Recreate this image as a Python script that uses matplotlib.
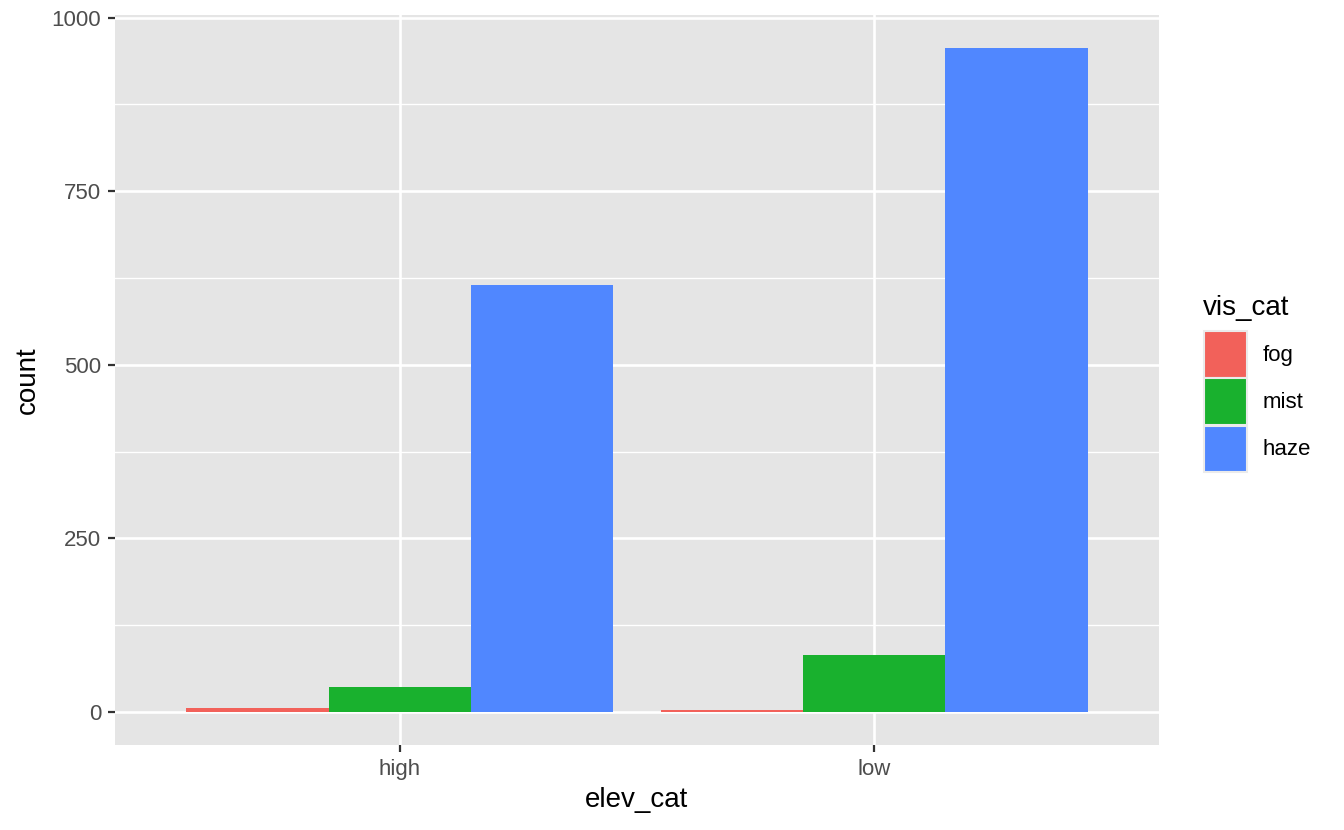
import matplotlib
matplotlib.use("Agg")
import matplotlib.pyplot as plt
import numpy as np
from matplotlib.patches import Patch

plt.rcParams['font.family'] = ['Liberation Sans', 'DejaVu Sans']

elev_cat = ["high", "low"]
vis_cat = ["fog", "mist", "haze"]
counts = {
    "fog": [6, 3],
    "mist": [36, 82],
    "haze": [615, 956],
}
colors = {"fog": "#F2615A", "mist": "#19B12E", "haze": "#5087FF"}

W, H = 1344, 830
fig = plt.figure(figsize=(W / 100, H / 100), dpi=100)
ax = fig.add_axes([115 / W, 1 - 745 / H, (1159 - 115) / W, (745 - 15) / H])
ax.set_facecolor("#E5E5E5")

x = np.arange(1, len(elev_cat) + 1)
bw = 0.9 / len(vis_cat)
for i, v in enumerate(vis_cat):
    ax.bar(x + (i - 1) * bw, counts[v], width=bw, color=colors[v], zorder=3)

ymax = max(max(c) for c in counts.values())
pad = ymax * 0.05
ax.set_ylim(-pad, ymax + pad)
ax.set_xlim(0.4, 2.6)

ax.set_yticks([0, 250, 500, 750, 1000])
ax.set_yticks([125, 375, 625, 875], minor=True)
ax.set_xticks(x)
ax.set_xticklabels(elev_cat)

ax.grid(which="major", color="white", linewidth=1.9, zorder=1)
ax.grid(which="minor", axis="y", color="white", linewidth=0.95, zorder=1)
ax.set_axisbelow(True)
for s in ax.spines.values():
    s.set_visible(False)
ax.tick_params(which="major", length=5, width=1.6, color="#333333",
               labelsize=16, labelcolor="#4D4D4D", pad=5)
ax.tick_params(which="minor", length=0)

ax.set_xlabel("elev_cat", fontsize=20, labelpad=5)
ax.set_ylabel("count", fontsize=20, labelpad=8)

# legend title drawn separately so the gap to the keys matches ggplot
fig.text(1203 / W, 1 - 315 / H, "vis_cat", fontsize=20, va="baseline", ha="left")
handles = [Patch(facecolor=colors[v], edgecolor="#EBEBEB", linewidth=1.5, label=v) for v in vis_cat]
leg = fig.legend(handles=handles, loc="upper left",
                 bbox_to_anchor=(1204 / W, 1 - 331 / H), frameon=False,
                 fontsize=16, handlelength=1.95,
                 handleheight=2.85, handletextpad=0.7, labelspacing=0.03,
                 borderaxespad=0, borderpad=0)

fig.savefig("out.png", dpi=100)
